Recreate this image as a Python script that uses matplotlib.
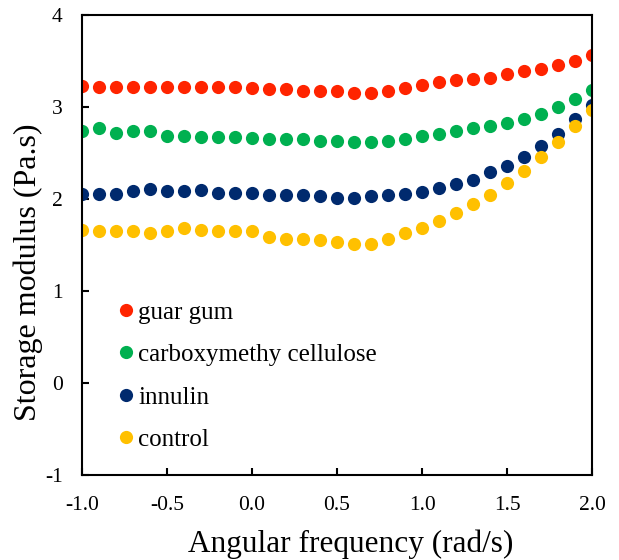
import numpy as np
import matplotlib
matplotlib.use("Agg")
import matplotlib.pyplot as plt

plt.rcParams["font.family"] = ["Liberation Serif", "DejaVu Serif"]
plt.rcParams["axes.unicode_minus"] = False

# angular frequency, log scale (-1.0 .. 2.0 step 0.1)
freq = np.round(np.arange(-1.0, 2.01, 0.1), 1)

guar_gum = [3.23, 3.22, 3.22, 3.22, 3.22, 3.22, 3.22, 3.22, 3.22, 3.22, 3.21,
            3.20, 3.20, 3.18, 3.18, 3.17, 3.15, 3.15, 3.17, 3.21, 3.24,
            3.27, 3.29, 3.31, 3.32, 3.36, 3.39, 3.41, 3.46, 3.50, 3.57]
cmc = [2.74, 2.77, 2.72, 2.74, 2.74, 2.69, 2.69, 2.67, 2.67, 2.67, 2.66,
       2.65, 2.65, 2.65, 2.63, 2.63, 2.62, 2.62, 2.63, 2.65, 2.68,
       2.71, 2.74, 2.77, 2.79, 2.83, 2.87, 2.92, 3.00, 3.09, 3.19]
innulin = [2.06, 2.06, 2.06, 2.09, 2.11, 2.09, 2.09, 2.10, 2.07, 2.07, 2.07,
           2.04, 2.04, 2.04, 2.03, 2.01, 2.01, 2.03, 2.04, 2.06, 2.08,
           2.12, 2.16, 2.21, 2.29, 2.36, 2.46, 2.58, 2.71, 2.87, 3.02]
control = [1.66, 1.65, 1.65, 1.65, 1.63, 1.65, 1.68, 1.66, 1.65, 1.65, 1.65,
           1.59, 1.57, 1.57, 1.55, 1.53, 1.51, 1.51, 1.57, 1.63, 1.69,
           1.76, 1.85, 1.95, 2.04, 2.17, 2.30, 2.46, 2.62, 2.79, 2.97]

labels = ["guar gum", "carboxymethy cellulose", "innulin", "control"]
colors = ["#FF2400", "#00B050", "#002A6E", "#FFC000"]

fig = plt.figure(figsize=(6.19, 5.6), dpi=100)
ax = fig.add_axes([0.1325, 0.152, 0.824, 0.821])

for ys, lab, c in zip([guar_gum, cmc, innulin, control], labels, colors):
    ax.plot(freq, ys, "o", color=c, ms=9.5, mec="none", label=lab)

ax.set_xlim(-1.0, 2.0)
ax.set_ylim(-1, 4)
ax.set_xticks(np.arange(-1.0, 2.01, 0.5))
ax.set_xticklabels([f"{v:.1f}" for v in np.arange(-1.0, 2.01, 0.5)])
ax.set_yticks(range(-1, 5))
ax.tick_params(direction="in", length=5, width=1.5, labelsize=15.5,
               top=False, right=False)
ax.tick_params(axis="x", pad=15)
ax.tick_params(axis="y", pad=14)
for sp in ax.spines.values():
    sp.set_linewidth(1.5)

ax.set_xlabel("Angular frequency (rad/s)", fontsize=22.5)
ax.set_ylabel("Storage modulus (Pa.s)", fontsize=23)
ax.xaxis.set_label_coords(0.527, -0.118)
ax.yaxis.set_label_coords(-0.077, 0.441)

ax.legend(loc="upper left", bbox_to_anchor=(0.07, 0.378), frameon=False,
          fontsize=18, handletextpad=0.15, labelspacing=0.8,
          handlelength=0.66, borderpad=0, borderaxespad=0)

fig.savefig("out.png", dpi=100)
